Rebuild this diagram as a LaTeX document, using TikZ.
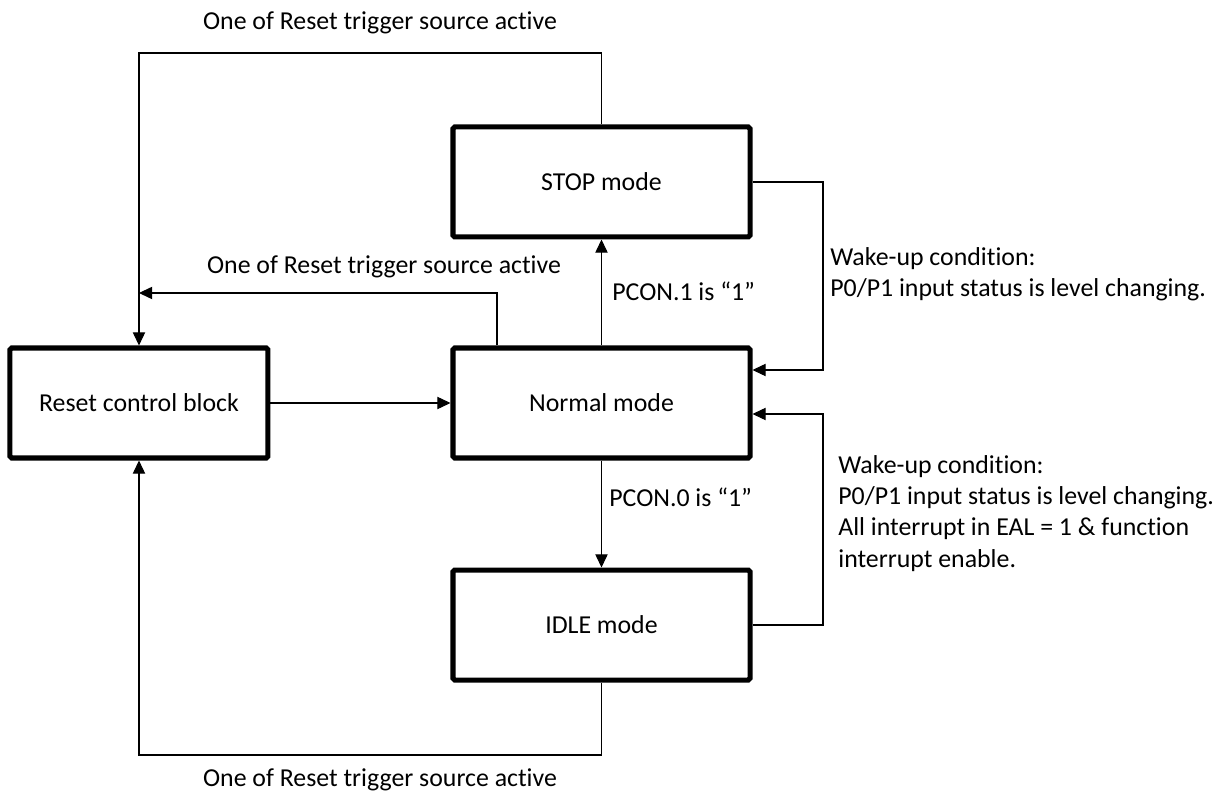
\documentclass[tikz,border=0pt]{standalone}
\usepackage{fontspec}
\setmainfont{Carlito}[Ligatures=NoCommon]
\usepackage{tikz}
\usetikzlibrary{positioning}
\usetikzlibrary{arrows.meta,calc}
\tikzset{line/.style={draw, line width=0.6pt, -{Triangle[length=7.5pt,width=7pt]}}}

\begin{document}
\begin{tikzpicture}[font=\fontsize{14.7}{17.7}\selectfont]
\tikzstyle{block} = [rectangle, rounded corners=1pt, draw, line width=2.85pt, minimum width=5.94cm, minimum height=2.2cm, align=center]
\tikzstyle{note} = [inner sep=0pt, anchor=west, align=left]
\tikzstyle{caption} = [inner sep=0pt]
\useasboundingbox (-12.03,-7.82) rectangle (12.49,8.06);

% blocks
    \node [block] (normal) {Normal mode};
    \node [block, above=2.12cm of normal] (stop) {STOP mode};
    \node [block, below=2.14cm of normal] (idle) {IDLE mode};
    \node [block, left=3.6cm of normal, minimum width=5.16cm] (reset) {Reset control block};
% labels
    \node [caption] (toptxt) at (-4.43,7.60) {One of Reset trigger source active};
    \node [caption] (midtxt) at (-4.35,2.72) {One of Reset trigger source active};
    \node [caption] (bottxt) at (-4.43,-7.54) {One of Reset trigger source active};
    \node [note] (pcon1) at (0.21,2.24) {PCON.1 is “1”};
    \node [note] (pcon0) at (0.15,-1.88) {PCON.0 is “1”};
    \node [note] (wake1) at (4.57,2.58) {Wake-up condition:\\P0/P1 input status is level changing.};
    \node [note] (wake2) at (4.73,-2.21) {Wake-up condition:\\P0/P1 input status is level changing.\\All interrupt in EAL = 1 \& function\\interrupt enable.};
% arrows
    \path [line] (reset.east) -- (normal.west);
    \path [line] (normal.north) -- (stop.south);
    \path [line] (normal.south) -- (idle.north);
    \path [line] (stop.north) -- ++(0,1.43) -| (reset.north);
    \path [line] ([xshift=0.93cm]normal.north west) |- ([yshift=1.05cm]reset.north);
    \path [line] (stop.east) -- ++(1.41,0) |- ([yshift=0.66cm]normal.east);
    \path [line] (idle.east) -- ++(1.41,0) |- ([yshift=-0.22cm]normal.east);
    \path [line] (idle.south) -- ++(0,-1.45) -| (reset.south);
\end{tikzpicture}
\end{document}
